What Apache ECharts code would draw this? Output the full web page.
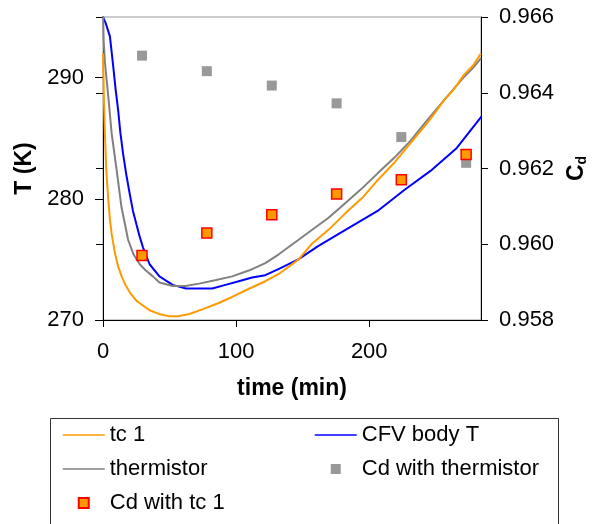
<!DOCTYPE html>
<html>
<head>
<meta charset="utf-8">
<script src="https://cdn.jsdelivr.net/npm/echarts@6/dist/echarts.min.js"></script>
<style>
html,body{margin:0;padding:0;background:#fff;}
#chart{width:597px;height:524px;}
</style>
</head>
<body>
<div id="chart"></div>
<script>
// ---- data ----
var tc1Time = [0, 0.3, 0.7, 1.5, 2.5, 4, 5.2, 6.5, 9, 11.4, 14, 16.4, 20, 25, 30, 35, 42, 50, 56, 65, 75, 87, 97, 110, 122, 132, 147, 157, 170, 182, 195, 206, 219, 231, 244, 256, 264, 271, 278, 284];
var tc1Temp = [292.0, 290.5, 288.2, 285.1, 282.3, 279.9, 278.3, 277.1, 275.5, 274.4, 273.6, 273.0, 272.3, 271.6, 271.2, 270.8, 270.5, 270.3, 270.3, 270.5, 270.9, 271.4, 271.9, 272.6, 273.2, 273.8, 275.0, 276.3, 277.5, 278.8, 280.1, 281.5, 283.0, 284.6, 286.3, 288.1, 289.1, 290.2, 291.0, 292.0];

var thermTime = [0, 0.5, 1.5, 4, 6.5, 10.2, 13.9, 18.9, 23, 27.6, 32, 37.5, 42.4, 52.3, 62, 72.2, 85, 97, 110, 121.9, 131.8, 146.7, 156.6, 169, 181.5, 194, 206.3, 219, 231.1, 243, 255.9, 263, 270.8, 278, 284];
var thermTemp = [295.5, 293.0, 291.2, 288.4, 285.4, 282.4, 279.3, 276.6, 275.4, 274.6, 274.1, 273.6, 273.1, 272.8, 272.8, 273.0, 273.3, 273.6, 274.1, 274.7, 275.4, 276.6, 277.4, 278.4, 279.6, 280.8, 282.1, 283.4, 284.8, 286.4, 288.1, 289.0, 290.0, 290.8, 291.6];

var cfvTime = [0, 2, 5.2, 7.7, 9.5, 11.4, 13, 15.1, 17.5, 20.1, 22.5, 25.1, 27.5, 30, 35, 42.4, 52.3, 62.3, 72, 82.1, 92, 102, 112, 121.9, 131.8, 146.7, 161.6, 181.5, 206.3, 226.1, 246, 265.8, 284.4];
var cfvTemp = [295.0, 294.5, 293.4, 290.9, 289.0, 287.3, 285.5, 283.7, 282.0, 280.4, 279.0, 277.9, 276.9, 276.0, 274.6, 273.6, 272.9, 272.6, 272.6, 272.6, 272.9, 273.2, 273.5, 273.7, 274.2, 275.0, 276.1, 277.4, 279.0, 280.7, 282.3, 284.2, 286.8];

var cdTime = [29.3, 78.0, 126.8, 175.5, 224.1, 272.8];
var cdThermistor = [0.96498, 0.96457, 0.96419, 0.96372, 0.96283, 0.96215];
var cdTc1 = [0.95970, 0.96030, 0.96078, 0.96133, 0.96170, 0.96237];

var xTicks = [0, 100, 200];
var tTicks = [270, 280, 290];
var cdTicks = [0.958, 0.960, 0.962, 0.964, 0.966];

function pairs(xs, ys) { return xs.map(function (x, i) { return [x, ys[i]]; }); }

var FONT = '"Liberation Sans", Arial, sans-serif';
var FS = 22;
var TFS = 23;
var SQUARE = 'path://M0,0H10V10H0Z';
var chart = echarts.init(document.getElementById('chart'), null, {renderer: 'canvas'});

var legendCommon = {
  orient: 'vertical', top: 424, padding: 0, itemWidth: 42, itemHeight: 10, itemGap: 12,
  symbolKeepAspect: true,
  textStyle: {fontSize: FS, color: '#000', fontFamily: FONT},
  lineStyle: {width: 1.5}
};

var option = {
  animation: false,
  backgroundColor: '#fff',
  textStyle: {fontFamily: FONT},
  grid: {left: 103, right: 113, top: 17, bottom: 204, show: true, borderColor: '#999', borderWidth: 1, backgroundColor: 'transparent'},
  xAxis: {
    type: 'value', min: 0, max: 284, interval: 100,
    name: 'time (min)', nameLocation: 'middle', nameGap: 57,
    nameTextStyle: {fontSize: TFS, fontWeight: 'bold', color: '#000', fontFamily: FONT},
    axisLine: {show: true, onZero: false, lineStyle: {color: '#000', width: 1}},
    axisTick: {show: true, inside: false, length: 7, customValues: xTicks, lineStyle: {color: '#000'}},
    axisLabel: {fontSize: FS, color: '#000', margin: 21, fontFamily: FONT, customValues: xTicks},
    splitLine: {show: false}
  },
  yAxis: [
    {
      type: 'value', min: 270, max: 295, interval: 10, position: 'left',
      name: 'T (K)', nameLocation: 'middle', nameGap: 66, nameRotate: 90,
      nameTextStyle: {fontSize: TFS, fontWeight: 'bold', color: '#000', fontFamily: FONT},
      axisLine: {show: true, onZero: false, lineStyle: {color: '#000', width: 1}},
      axisTick: {show: true, length: 8, customValues: tTicks, lineStyle: {color: '#000'}},
      axisLabel: {fontSize: FS, color: '#000', margin: 19, fontFamily: FONT, customValues: tTicks},
      splitLine: {show: false}
    },
    {
      type: 'value', min: 0.958, max: 0.966, interval: 0.002, position: 'right',
      name: '{c|C}{d|d}', nameLocation: 'middle', nameGap: 81, nameRotate: 90,
      nameTextStyle: {
        color: '#000', fontFamily: FONT,
        rich: {
          c: {fontSize: TFS, fontWeight: 'bold', color: '#000', fontFamily: FONT, lineHeight: 25, verticalAlign: 'middle'},
          d: {fontSize: 14, fontWeight: 'bold', color: '#000', fontFamily: FONT, lineHeight: 25, verticalAlign: 'bottom', padding: [8, 0, 0, 0]}
        }
      },
      axisLine: {show: true, onZero: false, lineStyle: {color: '#000', width: 1}},
      axisTick: {show: true, length: 7, customValues: cdTicks, lineStyle: {color: '#000'}},
      axisLabel: {fontSize: FS, color: '#000', margin: 18, fontFamily: FONT, customValues: cdTicks,
        formatter: function (v) { return v.toFixed(3); }},
      splitLine: {show: false}
    },
    {
      type: 'value', min: 0.958, max: 0.966, interval: 0.002, position: 'right',
      axisLine: {show: false},
      axisTick: {show: true, inside: true, length: 7, customValues: cdTicks, lineStyle: {color: '#000'}},
      axisLabel: {show: false},
      splitLine: {show: false}
    }
  ],
  legend: [
    Object.assign({}, legendCommon, {
      left: 62,
      data: [
        {name: 'tc 1', itemStyle: {opacity: 0}},
        {name: 'thermistor', itemStyle: {opacity: 0}},
        {name: 'Cd with tc 1', icon: SQUARE}
      ]
    }),
    Object.assign({}, legendCommon, {
      left: 314,
      data: [
        {name: 'CFV body T', itemStyle: {opacity: 0}},
        {name: 'Cd with thermistor', icon: SQUARE}
      ]
    })
  ],
  graphic: [
    {type: 'rect', left: 48, top: 416, shape: {width: 508, height: 107}, style: {fill: 'none', stroke: '#333', lineWidth: 1}, z: -1}
  ],
  series: [
    {
      name: 'CFV body T', type: 'line', yAxisIndex: 0, symbol: 'none', smooth: false,
      lineStyle: {color: '#0000FF', width: 2}, itemStyle: {color: '#0000FF'},
      data: pairs(cfvTime, cfvTemp), z: 3
    },
    {
      name: 'thermistor', type: 'line', yAxisIndex: 0, symbol: 'none', smooth: false,
      lineStyle: {color: '#808080', width: 2}, itemStyle: {color: '#808080'},
      data: pairs(thermTime, thermTemp), z: 3
    },
    {
      name: 'tc 1', type: 'line', yAxisIndex: 0, symbol: 'none', smooth: false,
      lineStyle: {color: '#FF9900', width: 2}, itemStyle: {color: '#FF9900'},
      data: pairs(tc1Time, tc1Temp), z: 4
    },
    {
      name: 'Cd with thermistor', type: 'scatter', yAxisIndex: 1, symbol: 'rect', symbolSize: 10,
      itemStyle: {color: '#999999', opacity: 1},
      data: pairs(cdTime, cdThermistor), z: 5
    },
    {
      name: 'Cd with tc 1', type: 'scatter', yAxisIndex: 1, symbol: 'rect', symbolSize: 10,
      itemStyle: {color: '#FF9900', borderColor: '#FF0000', borderWidth: 1.5, opacity: 1},
      data: pairs(cdTime, cdTc1), z: 6
    }
  ]
};
chart.setOption(option);
</script>
</body>
</html>
